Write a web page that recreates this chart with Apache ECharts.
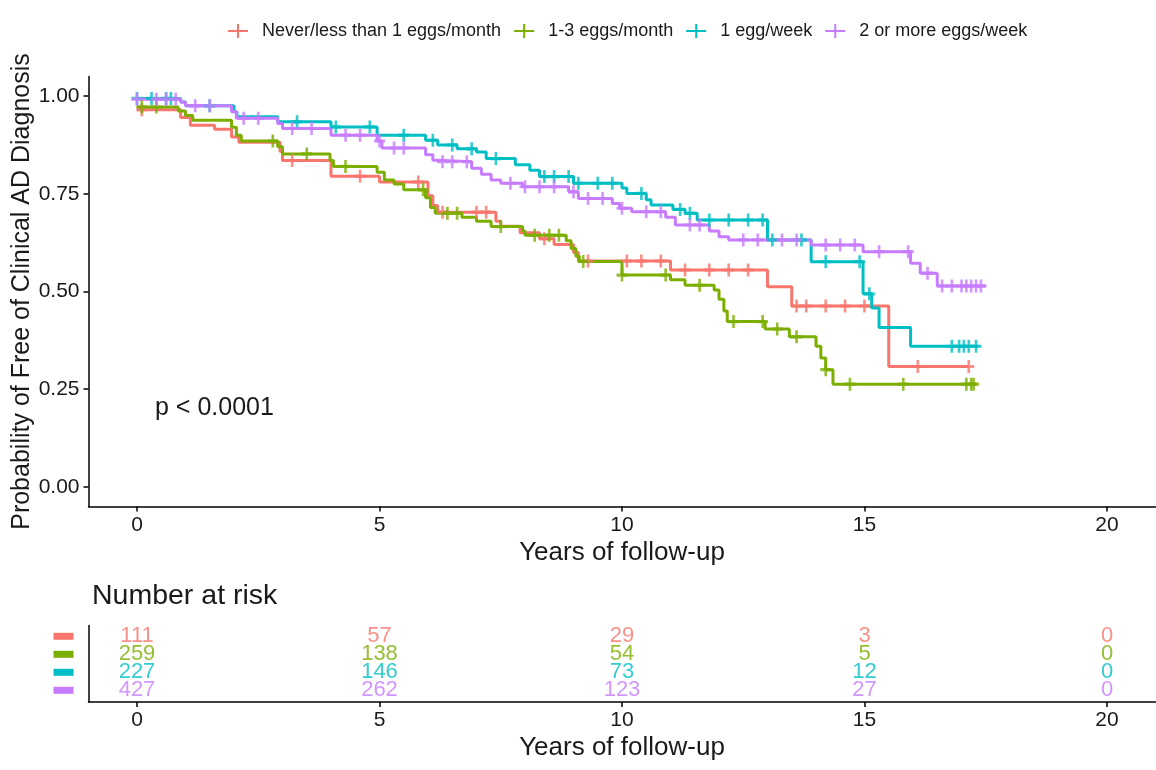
<!DOCTYPE html>
<html>
<head>
<meta charset="utf-8">
<script src="https://cdn.jsdelivr.net/npm/echarts@6/dist/echarts.min.js"></script>
<style>
  html, body { margin: 0; padding: 0; background: #fff; }
  #chart { width: 1156px; height: 770px; }
</style>
</head>
<body>
<div id="chart"></div>
<script>
// group names and colours (ggplot default hues)
var groups = ['Never/less than 1 eggs/month', '1-3 eggs/month', '1 egg/week', '2 or more eggs/week'];
var colors = ['#F8766D', '#7CAE00', '#00BFC4', '#C77CFF'];

// KM steps: [years, survival]
var stepNever = [[0,0.965],[0.9,0.945],[1.1,0.925],[1.6,0.915],[1.95,0.895],[2.1,0.882],[2.95,0.858],[3.0,0.835],
  [4.0,0.795],[5.0,0.78],[6.0,0.745],[6.1,0.72],[6.2,0.703],[7.4,0.68],[7.5,0.667],[7.9,0.65],[8.3,0.635],
  [8.6,0.62],[9.0,0.60],[9.1,0.578],[11.0,0.555],[13.0,0.512],[13.5,0.463],[15.5,0.308],[17.15,0.308]];
var stepOneThree = [[0,0.972],[0.85,0.962],[1.0,0.95],[1.15,0.938],[1.95,0.92],[2.05,0.90],[2.15,0.885],[2.9,0.87],
  [3.0,0.852],[3.98,0.835],[4.05,0.82],[4.95,0.805],[5.1,0.785],[5.3,0.775],[5.5,0.76],[5.95,0.74],[6.05,0.715],
  [6.15,0.70],[6.7,0.69],[7.0,0.68],[7.3,0.666],[7.95,0.655],[8.0,0.644],[8.85,0.63],[8.95,0.61],[9.05,0.59],
  [9.12,0.577],[10.0,0.542],[11.0,0.53],[11.3,0.516],[11.9,0.504],[12.0,0.48],[12.1,0.45],[12.17,0.423],
  [12.95,0.404],[13.45,0.384],[14.0,0.36],[14.1,0.33],[14.2,0.30],[14.35,0.263],[17.3,0.263]];
var stepOneWeek = [[0,0.994],[0.9,0.985],[1.0,0.975],[2.0,0.96],[2.06,0.947],[2.9,0.934],[4.0,0.921],[4.95,0.90],
  [5.95,0.887],[6.2,0.875],[6.6,0.865],[7.0,0.857],[7.2,0.84],[7.8,0.824],[8.1,0.81],[8.3,0.794],[9.0,0.777],
  [10.0,0.765],[10.1,0.751],[10.5,0.735],[10.6,0.721],[11.05,0.71],[11.3,0.70],[11.55,0.683],[13.0,0.632],
  [13.9,0.576],[14.97,0.494],[15.15,0.458],[15.3,0.408],[15.95,0.36],[17.35,0.36]];
var stepTwoPlus = [[0,0.992],[0.9,0.985],[1.0,0.975],[1.95,0.96],[2.05,0.943],[2.9,0.93],[3.0,0.917],[4.0,0.90],
  [4.95,0.885],[5.05,0.867],[5.95,0.85],[6.1,0.836],[6.2,0.832],[6.9,0.815],[7.1,0.80],[7.3,0.785],[7.5,0.777],
  [7.95,0.768],[8.9,0.755],[9.1,0.738],[9.8,0.725],[9.95,0.713],[10.2,0.704],[10.9,0.69],[11.1,0.67],[11.8,0.655],
  [12.0,0.64],[12.2,0.632],[13.9,0.619],[14.97,0.602],[15.95,0.572],[16.15,0.547],[16.5,0.514],[17.5,0.514]];

// censor times (+ marks)
var censorNever = [0.1,3.2,4.6,5.8,6.3,7.0,7.2,8.4,9.3,10.1,10.4,10.8,11.3,11.8,12.2,12.6,13.6,13.8,14.2,14.6,15.0,16.1,17.15];
var censorOneThree = [0.1,0.4,2.8,3.5,4.3,5.9,6.4,6.6,7.5,8.2,8.5,8.7,9.2,10.0,10.9,11.6,12.3,12.9,13.2,13.6,14.2,14.7,15.8,17.1,17.2,17.25];
var censorOneWeek = [0,0.3,0.6,0.7,1.5,3.3,4.1,4.8,5.5,6.1,6.5,6.9,7.4,8.4,8.6,8.9,9.1,9.5,9.8,10.4,11.2,11.4,11.8,
  12.2,12.6,12.9,13.1,13.7,14.2,14.9,15.1,16.8,16.95,17.05,17.15,17.3];
var censorTwoPlus = [0,0.4,0.6,0.8,1.2,1.5,2.2,2.5,3.2,3.6,4.3,4.6,5.0,5.3,5.5,6.3,6.5,6.8,7.7,8.0,8.3,8.6,9.0,9.3,
  9.6,10.0,10.5,10.8,11.4,11.6,12.5,12.8,13.3,13.6,14.2,14.5,14.8,15.3,15.9,16.3,16.6,16.8,17.0,17.1,17.2,17.3,17.4];

// number at risk table
var riskTimes = [0, 5, 10, 15, 20];
var riskNever = [111, 57, 29, 3, 0];
var riskOneThree = [259, 138, 54, 5, 0];
var riskOneWeek = [227, 146, 73, 12, 0];
var riskTwoPlus = [427, 262, 123, 27, 0];

var xTicks = [0, 5, 10, 15, 20];
var yTicks = [0, 0.25, 0.5, 0.75, 1];

var steps = [stepNever, stepOneThree, stepOneWeek, stepTwoPlus];
var censors = [censorNever, censorOneThree, censorOneWeek, censorTwoPlus];
var risks = [riskNever, riskOneThree, riskOneWeek, riskTwoPlus];

function survAt(step, t) {
  var s = step[0][1];
  for (var i = 0; i < step.length; i++) {
    if (step[i][0] <= t) s = step[i][1];
  }
  return s;
}

var plusMark = 'path://M3.8,0H6.2V3.8H10V6.2H6.2V10H3.8V6.2H0V3.8H3.8Z';
var legendIcon = 'path://M0,6H9V0H11V6H20V8H11V14H9V8H0Z';
var font = 'Liberation Sans, Arial, sans-serif';
var axisColor = '#000';
var textColor = '#1a1a1a';

var series = [];
groups.forEach(function (g, i) {
  series.push({
    name: g, type: 'line', step: 'end', xAxisIndex: 0, yAxisIndex: 0,
    showSymbol: false, silent: true, z: 2,
    lineStyle: { color: colors[i], width: 3 },
    itemStyle: { color: colors[i] },
    data: steps[i]
  });
});
groups.forEach(function (g, i) {
  series.push({
    name: g, type: 'scatter', xAxisIndex: 0, yAxisIndex: 0,
    symbol: plusMark, symbolSize: [11, 13], silent: true, z: 3,
    itemStyle: { color: colors[i] },
    data: censors[i].map(function (t) { return [t, survAt(steps[i], t)]; })
  });
});
groups.forEach(function (g, i) {
  series.push({
    name: g + ' risk', type: 'scatter', xAxisIndex: 1, yAxisIndex: 1,
    symbolSize: 0, silent: true,
    label: {
      show: true, position: 'inside', color: colors[i], fontSize: 22, fontFamily: font,
      formatter: function (p) { return p.data[2]; }
    },
    data: riskTimes.map(function (t, k) { return [t, 4 - i, risks[i][k]]; })
  });
});

function xAxisCfg(idx) {
  return {
    type: 'value', gridIndex: idx, min: -1, max: 21,
    name: 'Years of follow-up', nameLocation: 'middle', nameGap: 33, nameMoveOverlap: false,
    nameTextStyle: { fontSize: 26, color: textColor, fontFamily: font },
    axisLine: { onZero: false, lineStyle: { color: axisColor, width: 1.5 } },
    axisTick: { customValues: xTicks, length: 5, lineStyle: { color: axisColor, width: 1.5 } },
    axisLabel: { customValues: xTicks, fontSize: 21, color: textColor, fontFamily: font, margin: 8 },
    splitLine: { show: false }
  };
}

var richBars = {};
[4, 3, 2, 1].forEach(function (v, i) {
  richBars['b' + v] = { width: 20, height: 7, backgroundColor: colors[i] };
});

var option = {
  backgroundColor: '#fff',
  animation: false,
  textStyle: { fontFamily: font },
  legend: {
    top: 17, left: 223, itemWidth: 24, itemHeight: 14, itemGap: 13,
    textStyle: { fontSize: 18, color: textColor, fontFamily: font, padding: [0, 0, 0, 7] },
    data: groups.map(function (g, i) { return { name: g, icon: legendIcon, itemStyle: { color: colors[i] } }; })
  },
  grid: [
    { left: 88.5, right: 0.5, top: 76.5, height: 430, outerBoundsMode: 'none', containLabel: false },
    { left: 88.5, right: 0.5, top: 625.5, height: 76.5, outerBoundsMode: 'none', containLabel: false }
  ],
  xAxis: [xAxisCfg(0), xAxisCfg(1)],
  yAxis: [
    {
      type: 'value', gridIndex: 0, min: -0.05, max: 1.05,
      name: 'Probability of Free of Clinical AD Diagnosis', nameLocation: 'middle', nameGap: 54,
      nameMoveOverlap: false,
      nameTextStyle: { fontSize: 25, color: textColor, fontFamily: font },
      axisLine: { onZero: false, lineStyle: { color: axisColor, width: 1.5 } },
      axisTick: { customValues: yTicks, length: 5, lineStyle: { color: axisColor, width: 1.5 } },
      axisLabel: {
        customValues: yTicks, fontSize: 21, color: textColor, fontFamily: font, margin: 9,
        formatter: function (v) { return v.toFixed(2); }
      },
      splitLine: { show: false }
    },
    {
      type: 'value', gridIndex: 1, min: 0.35, max: 4.6,
      axisLine: { onZero: false, lineStyle: { color: axisColor, width: 1.5 } },
      axisTick: { show: false },
      axisLabel: {
        customValues: [1, 2, 3, 4], margin: 15,
        formatter: function (v) { return '{b' + v + '| }'; },
        rich: richBars
      },
      splitLine: { show: false }
    }
  ],
  graphic: [
    { type: 'text', left: 155, top: 396, style: { text: 'p < 0.0001', fontSize: 25, fill: textColor, fontFamily: font } },
    { type: 'text', left: 92, top: 582, style: { text: 'Number at risk', fontSize: 28.5, fill: textColor, fontFamily: font } }
  ],
  series: series
};

var myChart = echarts.init(document.getElementById('chart'));
myChart.setOption(option);
</script>
</body>
</html>
